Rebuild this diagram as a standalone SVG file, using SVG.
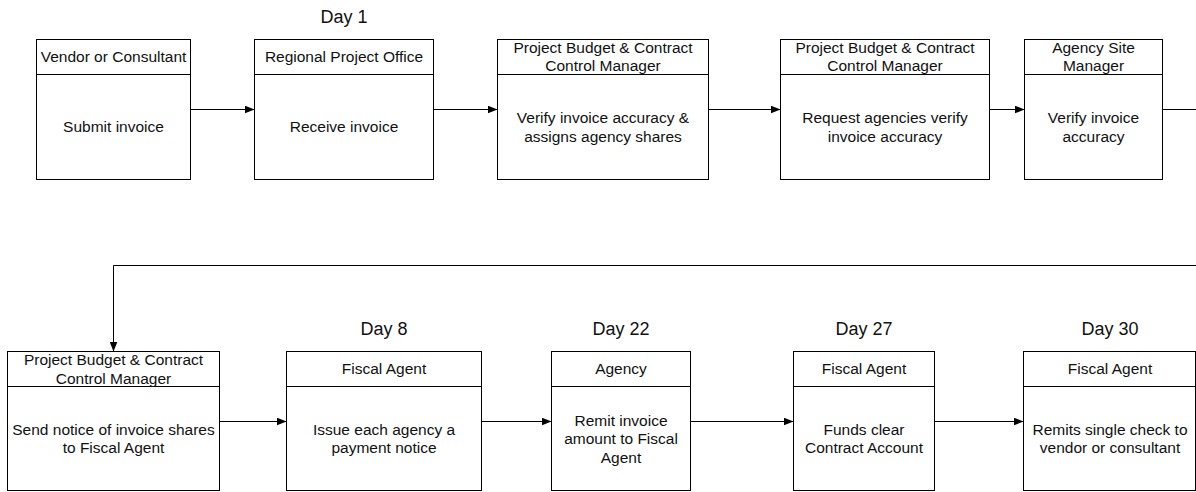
<svg xmlns="http://www.w3.org/2000/svg" width="1196" height="492" viewBox="0 0 1196 492">
<style>
.box{fill:#fff;stroke:#000;stroke-width:1}
.div{stroke:#000;stroke-width:1}
text{font-family:"Liberation Sans",Arial,sans-serif;fill:#111;text-anchor:middle}
.t{font-size:15.5px}
.day{font-size:18px}
.con{fill:none;stroke:#000;stroke-width:1}
</style>
<defs>
<marker id="ah" markerUnits="userSpaceOnUse" markerWidth="10" markerHeight="8" refX="10" refY="4" orient="auto">
<path d="M0,0 L10,4 L0,8 z" fill="#000"/>
</marker>
</defs>
<rect width="1196" height="492" fill="#fff"/>
<g id="connectors">
<line class="con" x1="190.5" y1="109.5" x2="254.5" y2="109.5" marker-end="url(#ah)"/>
<line class="con" x1="433.5" y1="109.5" x2="497.5" y2="109.5" marker-end="url(#ah)"/>
<line class="con" x1="708.5" y1="109.5" x2="780.5" y2="109.5" marker-end="url(#ah)"/>
<line class="con" x1="989.5" y1="109.5" x2="1024.5" y2="109.5" marker-end="url(#ah)"/>
<line class="con" x1="1162.5" y1="109.5" x2="1196" y2="109.5"/>
<path class="con" d="M1196,265.5 H113.5 V351.5" marker-end="url(#ah)"/>
<line class="con" x1="219.5" y1="421.5" x2="286.5" y2="421.5" marker-end="url(#ah)"/>
<line class="con" x1="481.5" y1="421.5" x2="551.5" y2="421.5" marker-end="url(#ah)"/>
<line class="con" x1="690.5" y1="421.5" x2="793.5" y2="421.5" marker-end="url(#ah)"/>
<line class="con" x1="934.5" y1="421.5" x2="1023.5" y2="421.5" marker-end="url(#ah)"/>
</g>
<g id="day-labels">
<text class="day" x="344" y="23">Day 1</text>
<text class="day" x="384" y="335">Day 8</text>
<text class="day" x="621" y="335">Day 22</text>
<text class="day" x="864" y="335">Day 27</text>
<text class="day" x="1110" y="335">Day 30</text>
</g>
<g id="n1">
<rect class="box" x="36.5" y="39.5" width="154" height="140"/>
<line class="div" x1="36.5" y1="74.5" x2="190.5" y2="74.5"/>
<text class="t" x="113.5" y="62">Vendor or Consultant</text>
<text class="t" x="113.5" y="132">Submit invoice</text>
</g>
<g id="n2">
<rect class="box" x="254.5" y="39.5" width="179" height="140"/>
<line class="div" x1="254.5" y1="74.5" x2="433.5" y2="74.5"/>
<text class="t" x="344" y="62">Regional Project Office</text>
<text class="t" x="344" y="132">Receive invoice</text>
</g>
<g id="n3">
<rect class="box" x="497.5" y="39.5" width="211" height="140"/>
<line class="div" x1="497.5" y1="74.5" x2="708.5" y2="74.5"/>
<text class="t" x="603" y="52.5">Project Budget &amp; Contract</text>
<text class="t" x="603" y="71">Control Manager</text>
<text class="t" x="603" y="123">Verify invoice accuracy &amp;</text>
<text class="t" x="603" y="141.5">assigns agency shares</text>
</g>
<g id="n4">
<rect class="box" x="780.5" y="39.5" width="209" height="140"/>
<line class="div" x1="780.5" y1="74.5" x2="989.5" y2="74.5"/>
<text class="t" x="885" y="52.5">Project Budget &amp; Contract</text>
<text class="t" x="885" y="71">Control Manager</text>
<text class="t" x="885" y="123">Request agencies verify</text>
<text class="t" x="885" y="141.5">invoice accuracy</text>
</g>
<g id="n5">
<rect class="box" x="1024.5" y="39.5" width="138" height="140"/>
<line class="div" x1="1024.5" y1="74.5" x2="1162.5" y2="74.5"/>
<text class="t" x="1093.5" y="52.5">Agency Site</text>
<text class="t" x="1093.5" y="71">Manager</text>
<text class="t" x="1093.5" y="123">Verify invoice</text>
<text class="t" x="1093.5" y="141.5">accuracy</text>
</g>
<g id="n6">
<rect class="box" x="7.5" y="351.5" width="212" height="139"/>
<line class="div" x1="7.5" y1="386.5" x2="219.5" y2="386.5"/>
<text class="t" x="113.5" y="365">Project Budget &amp; Contract</text>
<text class="t" x="113.5" y="383.5">Control Manager</text>
<text class="t" x="113.5" y="434.5">Send notice of invoice shares</text>
<text class="t" x="113.5" y="453">to Fiscal Agent</text>
</g>
<g id="n7">
<rect class="box" x="286.5" y="351.5" width="195" height="139"/>
<line class="div" x1="286.5" y1="386.5" x2="481.5" y2="386.5"/>
<text class="t" x="384" y="374">Fiscal Agent</text>
<text class="t" x="384" y="434.5">Issue each agency a</text>
<text class="t" x="384" y="453">payment notice</text>
</g>
<g id="n8">
<rect class="box" x="551.5" y="351.5" width="139" height="139"/>
<line class="div" x1="551.5" y1="386.5" x2="690.5" y2="386.5"/>
<text class="t" x="621" y="374">Agency</text>
<text class="t" x="621" y="425.5">Remit invoice</text>
<text class="t" x="621" y="444">amount to Fiscal</text>
<text class="t" x="621" y="462.5">Agent</text>
</g>
<g id="n9">
<rect class="box" x="793.5" y="351.5" width="141" height="139"/>
<line class="div" x1="793.5" y1="386.5" x2="934.5" y2="386.5"/>
<text class="t" x="864" y="374">Fiscal Agent</text>
<text class="t" x="864" y="434.5">Funds clear</text>
<text class="t" x="864" y="453">Contract Account</text>
</g>
<g id="n10">
<rect class="box" x="1023.5" y="351.5" width="172" height="139"/>
<line class="div" x1="1023.5" y1="386.5" x2="1195.5" y2="386.5"/>
<text class="t" x="1110" y="374">Fiscal Agent</text>
<text class="t" x="1110" y="434.5">Remits single check to</text>
<text class="t" x="1110" y="453">vendor or consultant</text>
</g>
</svg>
